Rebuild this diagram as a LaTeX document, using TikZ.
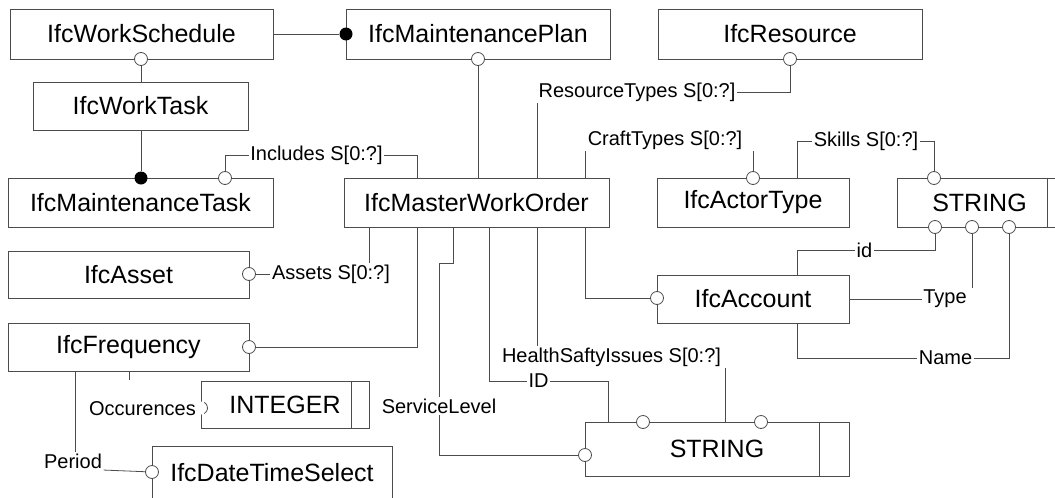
\documentclass[tikz,border=0pt]{standalone}
\usepackage{fontspec}
\setmainfont{Liberation Sans}
\begin{document}
\begin{tikzpicture}[x=1pt,y=-1pt,
  ent/.style={rectangle, draw=black!70, line width=0.8pt, inner sep=0pt, font=\fontsize{25}{29}\selectfont},
  lbl/.style={inner sep=1.5pt, font=\fontsize{20}{23}\selectfont},
  oc/.style={circle, draw=black!70, line width=0.8pt, fill=white, inner sep=0pt, minimum size=13pt},
  fc/.style={circle, fill=black, inner sep=0pt, minimum size=13pt},
  lnk/.style={draw=black!70, line width=0.8pt}]
\useasboundingbox (0,0) rectangle (1055,498);
\node[ent, minimum width=263pt, minimum height=50pt] (ws) at (141.5,34) {IfcWorkSchedule};
\node[ent, minimum width=215pt, minimum height=48pt] (wt) at (140.5,106) {IfcWorkTask};
\node[ent, minimum width=264pt, minimum height=50pt] (mp) at (478,34) {IfcMaintenancePlan};
\node[ent, minimum width=264pt, minimum height=50pt] (res) at (790,34) {IfcResource};
\node[ent, minimum width=265pt, minimum height=49pt] (mt) at (140.5,202.5) {IfcMaintenanceTask};
\node[ent, minimum width=265pt, minimum height=49pt] (mwo) at (476.5,202.5) {IfcMasterWorkOrder};
\node[ent, minimum width=192pt, minimum height=49pt] (act) at (753,202.5) {IfcActorType};
\node[ent, minimum width=165pt, minimum height=49pt] (strA) at (979.5,202.5) {STRING};
\draw[lnk] (1047,0 |- strA.north) -- (1047,0 |- strA.south);
\node[ent, minimum width=241pt, minimum height=47pt] (ast) at (128.5,274.5) {IfcAsset};
\node[ent, minimum width=192pt, minimum height=48pt] (acc) at (753,299) {IfcAccount};
\node[ent, minimum width=241pt, minimum height=48pt] (frq) at (128.5,347) {IfcFrequency};
\node[ent, minimum width=168pt, minimum height=47pt] (int) at (285,404.5) {INTEGER};
\draw[lnk] (351,0 |- int.north) -- (351,0 |- int.south);
\node[ent, minimum width=240pt, minimum height=54pt] (dts) at (272,473) {IfcDateTimeSelect};
\node[ent, minimum width=264pt, minimum height=54pt] (strB) at (717,449) {STRING};
\draw[lnk] (819,0 |- strB.north) -- (819,0 |- strB.south);
\node[lbl] (incl) at (316.5,155) {Includes S[0:?]};
\node[lbl] (rtyp) at (637,92) {ResourceTypes S[0:?]};
\node[lbl] (ctyp) at (665,140) {CraftTypes S[0:?]};
\node[lbl] (skl) at (866,141) {Skills S[0:?]};
\node[lbl] (astl) at (331,274) {Assets S[0:?]};
\node[lbl] (hsi) at (611.5,357) {HealthSaftyIssues S[0:?]};
\node[lbl] (idl) at (538.5,381) {ID};
\node[lbl] (svl) at (439,406) {ServiceLevel};
\node[lbl] (idA) at (864.5,250) {id};
\node[lbl] (typ) at (945,299) {Type};
\node[lbl] (nam) at (945.5,358) {Name};
\node[lbl] (occ) at (142.5,409) {Occurences};
\node[lbl] (per) at (73,461) {Period};
\node[oc] (o1) at (141,59) {};
\node[fc] (f1) at (346,34) {};
\node[fc] (f2) at (141,178) {};
\node[oc] (o2) at (225,178) {};
\node[oc] (o3) at (478,59) {};
\node[oc] (o4) at (790,59) {};
\node[oc] (o5) at (753,178) {};
\node[oc] (o6) at (934,178) {};
\node[oc] (o7) at (249,274) {};
\node[oc] (o8) at (249,347) {};
\node[oc] (o9) at (585,455) {};
\node[oc] (o10) at (643,422) {};
\node[oc] (o11) at (761,422) {};
\node[oc] (o12) at (657,298) {};
\node[oc] (o13) at (935,227) {};
\node[oc] (o14) at (972,227) {};
\node[oc] (o15) at (1009,227) {};
\node[circle, fill=white, inner sep=0pt, minimum size=13pt] (o16) at (201,408) {};
\draw[lnk] ([shift={(60:6.5pt)}]o16.center) arc[start angle=60, end angle=-60, radius=6.5pt];
\node[oc] (o17) at (152,472) {};
\draw[lnk] (ws) -- (f1);
\draw[lnk] (o1) -- (o1 |- wt.north);
\draw[lnk] (f2 |- wt.south) -- (f2);
\draw[lnk] (o2) |- (incl);
\draw[lnk] (incl) -| (417,0 |- mwo.north);
\draw[lnk] (o3) -- (o3 |- mwo.north);
\draw[lnk] (o4) |- (rtyp);
\draw[lnk] (537,0 |- rtyp.south) -- (537,0 |- mwo.north);
\draw[lnk] (585,0 |- ctyp.south) -- (585,0 |- mwo.north);
\draw[lnk] (o5) -- (o5 |- ctyp.south);
\draw[lnk] (797,0 |- act.north) |- (skl);
\draw[lnk] (skl) -| (o6);
\draw[lnk] (o7) -- (astl);
\draw[lnk] (369,0 |- mwo.south) -- (369,0 |- astl.north);
\draw[lnk] (o8) -| (417,0 |- mwo.south);
\draw[lnk] (453,0 |- mwo.south) -- ++(0,36) -| (svl);
\draw[lnk] (svl) |- (o9);
\draw[lnk] (489,0 |- mwo.south) |- (idl);
\draw[lnk] (idl) -| (608,0 |- strB.north);
\draw[lnk] (537,0 |- mwo.south) -- (537,0 |- hsi.north);
\draw[lnk] (725,0 |- hsi.south) -- (725,0 |- strB.north);
\draw[lnk] (585,0 |- mwo.south) |- (o12);
\draw[lnk] (797,0 |- acc.north) |- (idA);
\draw[lnk] (idA) -| (o13);
\draw[lnk] (acc) -- (typ);
\draw[lnk] (o14) -- (o14 |- typ.north);
\draw[lnk] (797,0 |- acc.south) |- (nam);
\draw[lnk] (nam) -| (o15);
\draw[lnk] (129,0 |- frq.south) -- ++(0,9);
\draw[lnk] (75,0 |- frq.south) -- (75,0 |- per.north);
\draw[lnk] (per.south east) -- (o17);
\end{tikzpicture}
\end{document}
